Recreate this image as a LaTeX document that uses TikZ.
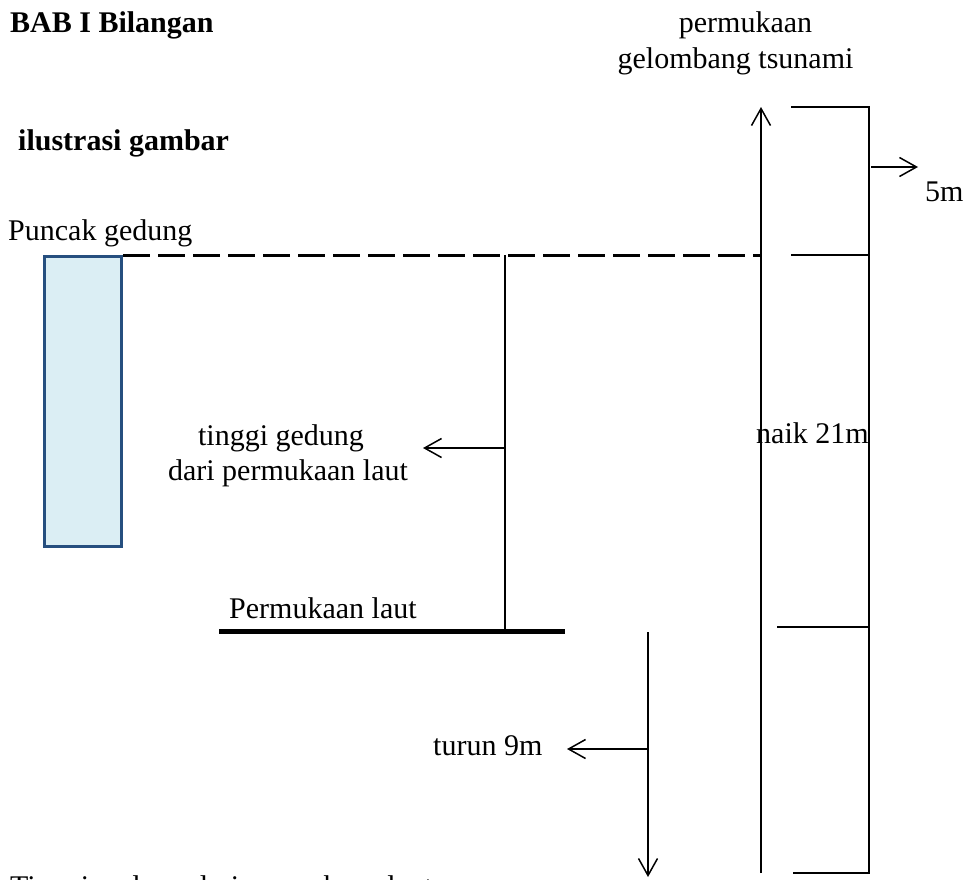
\documentclass[tikz,border=0pt]{standalone}
\usepackage{fontspec}
\setmainfont{Liberation Serif}
\usetikzlibrary{arrows.meta}
\definecolor{bdr}{HTML}{264F7F}
\definecolor{fil}{HTML}{DBEEF4}
\begin{document}
\begin{tikzpicture}[x=1pt,y=-1pt,
  txt/.style={inner sep=0pt, anchor=base west, font=\fontsize{30}{34.5}\selectfont},
  ctxt/.style={txt, anchor=base},
  btxt/.style={txt, font=\fontsize{30}{34.5}\selectfont\bfseries},
  medln/.style={line width=2pt},
  arr/.style={line width=1.5pt, -{Straight Barb[length=17pt,width=19pt,line width=1.5pt]}},
  building/.style={draw=bdr, fill=fil, line width=3pt},
]
\useasboundingbox (0,0) rectangle (976,879);

% texts
\node[btxt] (bab) at (10,32) {BAB I Bilangan};
\node[btxt] (ilus) at (18,150) {ilustrasi gambar};
\node[txt] (puncak) at (8,240) {Puncak gedung};
\node[ctxt] (perm1) at (745.5,32) {permukaan};
\node[ctxt] (perm2) at (735.5,68) {gelombang tsunami};
\node[txt] (five) at (925,201) {5m};
\node[ctxt] (ting1) at (281,445) {tinggi gedung};
\node[ctxt] (ting2) at (288,480) {dari permukaan laut};
\node[txt] (naik) at (756,443) {naik 21m};
\node[txt] (plaut) at (229,618) {Permukaan laut};
\node[txt] (turun) at (433,755) {turun 9m};
\node[txt] (bottom) at (10,896) {Tinggi gedung dari permukaan laut};

% building
\node[building, inner sep=0pt, minimum width=77pt, minimum height=290pt, anchor=north west] (bld) at (43,255) {};

% coordinates
\coordinate (dashE) at (761,255);
\coordinate (upB) at (761,873);
\coordinate (upT) at (761,107);
\coordinate (brTL) at (791,107);
\coordinate (brTR) at (869,107);
\coordinate (brML) at (791,255);
\coordinate (brMR) at (869,255);
\coordinate (brLL) at (777,627);
\coordinate (brLR) at (869,627);
\coordinate (brBL) at (793,873);
\coordinate (brBR) at (869,873);
\coordinate (fiveS) at (871,167);
\coordinate (fiveE) at (918,167);
\coordinate (tgT) at (505,255);
\coordinate (tgB) at (505,631);
\coordinate (tgA) at (505,448);
\coordinate (tgE) at (423,448);
\coordinate (slL) at (219,631);
\coordinate (slR) at (565,631);
\coordinate (dnT) at (648,632);
\coordinate (dnB) at (648,877);
\coordinate (dnA) at (648,749);
\coordinate (dnE) at (567,749);

% dashed top line
\draw[line width=3pt, dash pattern=on 27pt off 8pt] (bld.north east) -- (dashE);

% naik arrow
\draw[arr] (upB) -- (upT);

% bracket
\draw[medln] (brTL) -- (brTR) -- (brBR) -- (brBL);
\draw[medln] (brML) -- (brMR);
\draw[medln] (brLL) -- (brLR);
\draw[arr] (fiveS) -- (fiveE);

% tinggi gedung
\draw[medln] (tgT) -- (tgB);
\draw[arr] (tgA) -- (tgE);

% sea level
\draw[line width=5pt] (slL) -- (slR);

% turun
\draw[arr] (dnT) -- (dnB);
\draw[arr] (dnA) -- (dnE);
\end{tikzpicture}
\end{document}
